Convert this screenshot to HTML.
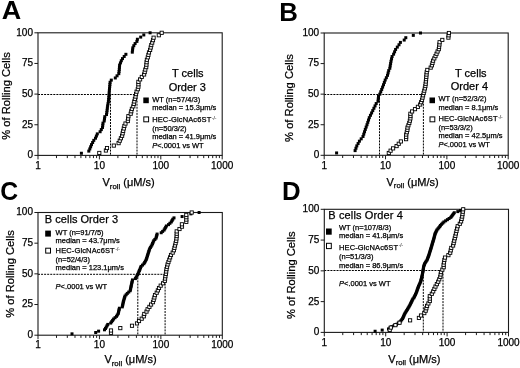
<!DOCTYPE html>
<html><head><meta charset="utf-8"><style>
html,body{margin:0;padding:0;background:#fff;}
svg{display:block;will-change:transform;}
text{font-family:"Liberation Sans", sans-serif;fill:#000;stroke:#000;stroke-width:0.25px;}
</style></head><body>
<svg width="520" height="368" viewBox="0 0 520 368">
<rect width="520" height="368" fill="#fff"/>
<path d="M38.0 94.50H137.0M110.5 94.50V155.4M137.0 94.50V155.4" stroke="#000" stroke-width="1" stroke-dasharray="2 1.06" fill="none"/>
<rect x="38.0" y="32.8" width="184.20" height="122.60" fill="none" stroke="#1a1a1a" stroke-width="1.1"/>
<path d="M34.40 155.40H38.0M34.40 124.75H38.0M34.40 94.10H38.0M34.40 63.45H38.0M34.40 32.80H38.0M38.00 155.4v4M56.48 155.4v2.7M67.30 155.4v2.7M74.97 155.4v2.7M80.92 155.4v2.7M85.78 155.4v2.7M89.89 155.4v2.7M93.45 155.4v2.7M96.59 155.4v2.7M99.40 155.4v4M117.88 155.4v2.7M128.70 155.4v2.7M136.37 155.4v2.7M142.32 155.4v2.7M147.18 155.4v2.7M151.29 155.4v2.7M154.85 155.4v2.7M157.99 155.4v2.7M160.80 155.4v4M179.28 155.4v2.7M190.10 155.4v2.7M197.77 155.4v2.7M203.72 155.4v2.7M208.58 155.4v2.7M212.69 155.4v2.7M216.25 155.4v2.7M219.39 155.4v2.7M222.20 155.4v4" stroke="#1a1a1a" stroke-width="1" fill="none"/>
<text x="33.00" y="158.30" text-anchor="end" font-size="10">0</text>
<text x="33.00" y="127.65" text-anchor="end" font-size="10">25</text>
<text x="33.00" y="97.00" text-anchor="end" font-size="10">50</text>
<text x="33.00" y="66.35" text-anchor="end" font-size="10">75</text>
<text x="33.00" y="35.70" text-anchor="end" font-size="10">100</text>
<text x="38.00" y="168.60" text-anchor="middle" font-size="10">1</text>
<text x="99.40" y="168.60" text-anchor="middle" font-size="10">10</text>
<text x="160.80" y="168.60" text-anchor="middle" font-size="10">100</text>
<text x="222.20" y="168.60" text-anchor="middle" font-size="10">1000</text>
<rect x="79.90" y="151.75" width="3" height="3" fill="#000"/>
<rect x="87.30" y="149.60" width="3" height="3" fill="#000"/>
<rect x="88.30" y="147.45" width="3" height="3" fill="#000"/>
<rect x="89.15" y="145.30" width="3" height="3" fill="#000"/>
<rect x="90.00" y="143.15" width="3" height="3" fill="#000"/>
<rect x="91.15" y="140.99" width="3" height="3" fill="#000"/>
<rect x="92.30" y="138.84" width="3" height="3" fill="#000"/>
<rect x="94.00" y="136.69" width="3" height="3" fill="#000"/>
<rect x="94.90" y="134.54" width="3" height="3" fill="#000"/>
<rect x="95.80" y="132.39" width="3" height="3" fill="#000"/>
<rect x="98.60" y="130.24" width="3" height="3" fill="#000"/>
<rect x="99.80" y="128.09" width="3" height="3" fill="#000"/>
<rect x="101.00" y="125.94" width="3" height="3" fill="#000"/>
<rect x="101.25" y="123.79" width="3" height="3" fill="#000"/>
<rect x="101.50" y="121.64" width="3" height="3" fill="#000"/>
<rect x="102.70" y="119.49" width="3" height="3" fill="#000"/>
<rect x="103.00" y="117.34" width="3" height="3" fill="#000"/>
<rect x="103.30" y="115.18" width="3" height="3" fill="#000"/>
<rect x="105.00" y="113.03" width="3" height="3" fill="#000"/>
<rect x="105.30" y="110.88" width="3" height="3" fill="#000"/>
<rect x="105.60" y="108.73" width="3" height="3" fill="#000"/>
<rect x="105.85" y="106.58" width="3" height="3" fill="#000"/>
<rect x="106.10" y="104.43" width="3" height="3" fill="#000"/>
<rect x="106.50" y="102.28" width="3" height="3" fill="#000"/>
<rect x="106.90" y="100.13" width="3" height="3" fill="#000"/>
<rect x="107.10" y="97.98" width="3" height="3" fill="#000"/>
<rect x="107.30" y="95.83" width="3" height="3" fill="#000"/>
<rect x="107.50" y="93.68" width="3" height="3" fill="#000"/>
<rect x="107.67" y="91.52" width="3" height="3" fill="#000"/>
<rect x="107.83" y="89.37" width="3" height="3" fill="#000"/>
<rect x="108.00" y="87.22" width="3" height="3" fill="#000"/>
<rect x="108.20" y="85.07" width="3" height="3" fill="#000"/>
<rect x="108.40" y="82.92" width="3" height="3" fill="#000"/>
<rect x="108.60" y="80.77" width="3" height="3" fill="#000"/>
<rect x="109.80" y="78.62" width="3" height="3" fill="#000"/>
<rect x="113.80" y="76.47" width="3" height="3" fill="#000"/>
<rect x="115.55" y="74.32" width="3" height="3" fill="#000"/>
<rect x="117.30" y="72.17" width="3" height="3" fill="#000"/>
<rect x="117.55" y="70.02" width="3" height="3" fill="#000"/>
<rect x="117.80" y="67.86" width="3" height="3" fill="#000"/>
<rect x="117.95" y="65.71" width="3" height="3" fill="#000"/>
<rect x="118.10" y="63.56" width="3" height="3" fill="#000"/>
<rect x="118.95" y="61.41" width="3" height="3" fill="#000"/>
<rect x="119.80" y="59.26" width="3" height="3" fill="#000"/>
<rect x="121.00" y="57.11" width="3" height="3" fill="#000"/>
<rect x="122.70" y="54.96" width="3" height="3" fill="#000"/>
<rect x="124.40" y="52.81" width="3" height="3" fill="#000"/>
<rect x="130.80" y="50.66" width="3" height="3" fill="#000"/>
<rect x="131.05" y="48.51" width="3" height="3" fill="#000"/>
<rect x="131.30" y="46.36" width="3" height="3" fill="#000"/>
<rect x="132.30" y="44.21" width="3" height="3" fill="#000"/>
<rect x="133.60" y="42.05" width="3" height="3" fill="#000"/>
<rect x="135.40" y="39.90" width="3" height="3" fill="#000"/>
<rect x="135.90" y="37.75" width="3" height="3" fill="#000"/>
<rect x="139.20" y="35.60" width="3" height="3" fill="#000"/>
<rect x="142.30" y="33.45" width="3" height="3" fill="#000"/>
<rect x="148.60" y="31.30" width="3" height="3" fill="#000"/>
<rect x="97.70" y="151.35" width="3.2" height="3.2" fill="#fff" stroke="#000" stroke-width="0.9"/>
<rect x="104.30" y="148.90" width="3.2" height="3.2" fill="#fff" stroke="#000" stroke-width="0.9"/>
<rect x="105.40" y="146.44" width="3.2" height="3.2" fill="#fff" stroke="#000" stroke-width="0.9"/>
<rect x="112.20" y="143.99" width="3.2" height="3.2" fill="#fff" stroke="#000" stroke-width="0.9"/>
<rect x="117.00" y="141.54" width="3.2" height="3.2" fill="#fff" stroke="#000" stroke-width="0.9"/>
<rect x="118.15" y="139.09" width="3.2" height="3.2" fill="#fff" stroke="#000" stroke-width="0.9"/>
<rect x="119.30" y="136.64" width="3.2" height="3.2" fill="#fff" stroke="#000" stroke-width="0.9"/>
<rect x="120.50" y="134.18" width="3.2" height="3.2" fill="#fff" stroke="#000" stroke-width="0.9"/>
<rect x="121.05" y="131.73" width="3.2" height="3.2" fill="#fff" stroke="#000" stroke-width="0.9"/>
<rect x="121.60" y="129.28" width="3.2" height="3.2" fill="#fff" stroke="#000" stroke-width="0.9"/>
<rect x="122.20" y="126.83" width="3.2" height="3.2" fill="#fff" stroke="#000" stroke-width="0.9"/>
<rect x="122.80" y="124.38" width="3.2" height="3.2" fill="#fff" stroke="#000" stroke-width="0.9"/>
<rect x="123.90" y="121.92" width="3.2" height="3.2" fill="#fff" stroke="#000" stroke-width="0.9"/>
<rect x="126.20" y="119.47" width="3.2" height="3.2" fill="#fff" stroke="#000" stroke-width="0.9"/>
<rect x="126.50" y="117.02" width="3.2" height="3.2" fill="#fff" stroke="#000" stroke-width="0.9"/>
<rect x="126.80" y="114.57" width="3.2" height="3.2" fill="#fff" stroke="#000" stroke-width="0.9"/>
<rect x="129.10" y="112.12" width="3.2" height="3.2" fill="#fff" stroke="#000" stroke-width="0.9"/>
<rect x="129.70" y="109.66" width="3.2" height="3.2" fill="#fff" stroke="#000" stroke-width="0.9"/>
<rect x="130.30" y="107.21" width="3.2" height="3.2" fill="#fff" stroke="#000" stroke-width="0.9"/>
<rect x="131.70" y="104.76" width="3.2" height="3.2" fill="#fff" stroke="#000" stroke-width="0.9"/>
<rect x="132.20" y="102.31" width="3.2" height="3.2" fill="#fff" stroke="#000" stroke-width="0.9"/>
<rect x="132.70" y="99.86" width="3.2" height="3.2" fill="#fff" stroke="#000" stroke-width="0.9"/>
<rect x="133.30" y="97.40" width="3.2" height="3.2" fill="#fff" stroke="#000" stroke-width="0.9"/>
<rect x="133.90" y="94.95" width="3.2" height="3.2" fill="#fff" stroke="#000" stroke-width="0.9"/>
<rect x="134.45" y="92.50" width="3.2" height="3.2" fill="#fff" stroke="#000" stroke-width="0.9"/>
<rect x="135.00" y="90.05" width="3.2" height="3.2" fill="#fff" stroke="#000" stroke-width="0.9"/>
<rect x="136.20" y="87.60" width="3.2" height="3.2" fill="#fff" stroke="#000" stroke-width="0.9"/>
<rect x="136.80" y="85.14" width="3.2" height="3.2" fill="#fff" stroke="#000" stroke-width="0.9"/>
<rect x="136.80" y="82.69" width="3.2" height="3.2" fill="#fff" stroke="#000" stroke-width="0.9"/>
<rect x="136.80" y="80.24" width="3.2" height="3.2" fill="#fff" stroke="#000" stroke-width="0.9"/>
<rect x="138.50" y="77.79" width="3.2" height="3.2" fill="#fff" stroke="#000" stroke-width="0.9"/>
<rect x="140.20" y="75.34" width="3.2" height="3.2" fill="#fff" stroke="#000" stroke-width="0.9"/>
<rect x="142.50" y="72.88" width="3.2" height="3.2" fill="#fff" stroke="#000" stroke-width="0.9"/>
<rect x="143.10" y="70.43" width="3.2" height="3.2" fill="#fff" stroke="#000" stroke-width="0.9"/>
<rect x="143.70" y="67.98" width="3.2" height="3.2" fill="#fff" stroke="#000" stroke-width="0.9"/>
<rect x="144.60" y="65.53" width="3.2" height="3.2" fill="#fff" stroke="#000" stroke-width="0.9"/>
<rect x="144.80" y="63.08" width="3.2" height="3.2" fill="#fff" stroke="#000" stroke-width="0.9"/>
<rect x="145.00" y="60.62" width="3.2" height="3.2" fill="#fff" stroke="#000" stroke-width="0.9"/>
<rect x="145.30" y="58.17" width="3.2" height="3.2" fill="#fff" stroke="#000" stroke-width="0.9"/>
<rect x="146.20" y="55.72" width="3.2" height="3.2" fill="#fff" stroke="#000" stroke-width="0.9"/>
<rect x="146.80" y="53.27" width="3.2" height="3.2" fill="#fff" stroke="#000" stroke-width="0.9"/>
<rect x="147.40" y="50.82" width="3.2" height="3.2" fill="#fff" stroke="#000" stroke-width="0.9"/>
<rect x="148.50" y="48.36" width="3.2" height="3.2" fill="#fff" stroke="#000" stroke-width="0.9"/>
<rect x="149.10" y="45.91" width="3.2" height="3.2" fill="#fff" stroke="#000" stroke-width="0.9"/>
<rect x="149.70" y="43.46" width="3.2" height="3.2" fill="#fff" stroke="#000" stroke-width="0.9"/>
<rect x="150.60" y="41.01" width="3.2" height="3.2" fill="#fff" stroke="#000" stroke-width="0.9"/>
<rect x="151.40" y="38.56" width="3.2" height="3.2" fill="#fff" stroke="#000" stroke-width="0.9"/>
<rect x="152.00" y="36.10" width="3.2" height="3.2" fill="#fff" stroke="#000" stroke-width="0.9"/>
<rect x="157.20" y="33.65" width="3.2" height="3.2" fill="#fff" stroke="#000" stroke-width="0.9"/>
<rect x="160.10" y="31.20" width="3.2" height="3.2" fill="#fff" stroke="#000" stroke-width="0.9"/>
<path d="M324.2 94.50H423.4M379.5 94.50V155.3M423.4 94.50V155.3" stroke="#000" stroke-width="1" stroke-dasharray="2 1.06" fill="none"/>
<rect x="324.2" y="33.0" width="184.00" height="122.30" fill="none" stroke="#1a1a1a" stroke-width="1.1"/>
<path d="M320.60 155.30H324.2M320.60 124.73H324.2M320.60 94.15H324.2M320.60 63.58H324.2M320.60 33.00H324.2M324.20 155.3v4M342.66 155.3v2.7M353.46 155.3v2.7M361.13 155.3v2.7M367.07 155.3v2.7M371.93 155.3v2.7M376.03 155.3v2.7M379.59 155.3v2.7M382.73 155.3v2.7M385.53 155.3v4M404.00 155.3v2.7M414.80 155.3v2.7M422.46 155.3v2.7M428.40 155.3v2.7M433.26 155.3v2.7M437.37 155.3v2.7M440.92 155.3v2.7M444.06 155.3v2.7M446.87 155.3v4M465.33 155.3v2.7M476.13 155.3v2.7M483.79 155.3v2.7M489.74 155.3v2.7M494.59 155.3v2.7M498.70 155.3v2.7M502.26 155.3v2.7M505.39 155.3v2.7M508.20 155.3v4" stroke="#1a1a1a" stroke-width="1" fill="none"/>
<text x="319.20" y="158.20" text-anchor="end" font-size="10">0</text>
<text x="319.20" y="127.63" text-anchor="end" font-size="10">25</text>
<text x="319.20" y="97.05" text-anchor="end" font-size="10">50</text>
<text x="319.20" y="66.48" text-anchor="end" font-size="10">75</text>
<text x="319.20" y="35.90" text-anchor="end" font-size="10">100</text>
<text x="324.20" y="168.50" text-anchor="middle" font-size="10">1</text>
<text x="385.53" y="168.50" text-anchor="middle" font-size="10">10</text>
<text x="446.87" y="168.50" text-anchor="middle" font-size="10">100</text>
<text x="508.20" y="168.50" text-anchor="middle" font-size="10">1000</text>
<rect x="335.10" y="151.45" width="3" height="3" fill="#000"/>
<rect x="353.60" y="149.10" width="3" height="3" fill="#000"/>
<rect x="354.45" y="146.74" width="3" height="3" fill="#000"/>
<rect x="355.30" y="144.39" width="3" height="3" fill="#000"/>
<rect x="356.60" y="142.04" width="3" height="3" fill="#000"/>
<rect x="357.90" y="139.69" width="3" height="3" fill="#000"/>
<rect x="359.70" y="137.34" width="3" height="3" fill="#000"/>
<rect x="361.50" y="134.98" width="3" height="3" fill="#000"/>
<rect x="362.27" y="132.63" width="3" height="3" fill="#000"/>
<rect x="363.03" y="130.28" width="3" height="3" fill="#000"/>
<rect x="363.80" y="127.93" width="3" height="3" fill="#000"/>
<rect x="364.65" y="125.58" width="3" height="3" fill="#000"/>
<rect x="365.50" y="123.23" width="3" height="3" fill="#000"/>
<rect x="366.27" y="120.87" width="3" height="3" fill="#000"/>
<rect x="367.03" y="118.52" width="3" height="3" fill="#000"/>
<rect x="367.80" y="116.17" width="3" height="3" fill="#000"/>
<rect x="368.95" y="113.82" width="3" height="3" fill="#000"/>
<rect x="370.10" y="111.47" width="3" height="3" fill="#000"/>
<rect x="371.25" y="109.11" width="3" height="3" fill="#000"/>
<rect x="372.40" y="106.76" width="3" height="3" fill="#000"/>
<rect x="373.55" y="104.41" width="3" height="3" fill="#000"/>
<rect x="374.70" y="102.06" width="3" height="3" fill="#000"/>
<rect x="376.50" y="99.71" width="3" height="3" fill="#000"/>
<rect x="376.75" y="97.35" width="3" height="3" fill="#000"/>
<rect x="377.00" y="95.00" width="3" height="3" fill="#000"/>
<rect x="378.30" y="92.65" width="3" height="3" fill="#000"/>
<rect x="379.25" y="90.30" width="3" height="3" fill="#000"/>
<rect x="380.20" y="87.95" width="3" height="3" fill="#000"/>
<rect x="381.10" y="85.59" width="3" height="3" fill="#000"/>
<rect x="382.00" y="83.24" width="3" height="3" fill="#000"/>
<rect x="382.85" y="80.89" width="3" height="3" fill="#000"/>
<rect x="383.70" y="78.54" width="3" height="3" fill="#000"/>
<rect x="384.85" y="76.19" width="3" height="3" fill="#000"/>
<rect x="386.00" y="73.83" width="3" height="3" fill="#000"/>
<rect x="386.60" y="71.48" width="3" height="3" fill="#000"/>
<rect x="387.20" y="69.13" width="3" height="3" fill="#000"/>
<rect x="388.30" y="66.78" width="3" height="3" fill="#000"/>
<rect x="388.70" y="64.43" width="3" height="3" fill="#000"/>
<rect x="389.10" y="62.08" width="3" height="3" fill="#000"/>
<rect x="389.50" y="59.72" width="3" height="3" fill="#000"/>
<rect x="390.05" y="57.37" width="3" height="3" fill="#000"/>
<rect x="390.60" y="55.02" width="3" height="3" fill="#000"/>
<rect x="392.10" y="52.67" width="3" height="3" fill="#000"/>
<rect x="393.10" y="50.32" width="3" height="3" fill="#000"/>
<rect x="394.10" y="47.96" width="3" height="3" fill="#000"/>
<rect x="395.80" y="45.61" width="3" height="3" fill="#000"/>
<rect x="397.50" y="43.26" width="3" height="3" fill="#000"/>
<rect x="398.90" y="40.91" width="3" height="3" fill="#000"/>
<rect x="402.70" y="38.56" width="3" height="3" fill="#000"/>
<rect x="404.30" y="36.20" width="3" height="3" fill="#000"/>
<rect x="411.80" y="33.85" width="3" height="3" fill="#000"/>
<rect x="419.00" y="31.50" width="3" height="3" fill="#000"/>
<rect x="387.20" y="151.39" width="3.2" height="3.2" fill="#fff" stroke="#000" stroke-width="0.9"/>
<rect x="389.00" y="149.08" width="3.2" height="3.2" fill="#fff" stroke="#000" stroke-width="0.9"/>
<rect x="391.50" y="146.78" width="3.2" height="3.2" fill="#fff" stroke="#000" stroke-width="0.9"/>
<rect x="395.00" y="144.47" width="3.2" height="3.2" fill="#fff" stroke="#000" stroke-width="0.9"/>
<rect x="397.15" y="142.16" width="3.2" height="3.2" fill="#fff" stroke="#000" stroke-width="0.9"/>
<rect x="399.30" y="139.85" width="3.2" height="3.2" fill="#fff" stroke="#000" stroke-width="0.9"/>
<rect x="404.50" y="137.55" width="3.2" height="3.2" fill="#fff" stroke="#000" stroke-width="0.9"/>
<rect x="404.55" y="135.24" width="3.2" height="3.2" fill="#fff" stroke="#000" stroke-width="0.9"/>
<rect x="404.60" y="132.93" width="3.2" height="3.2" fill="#fff" stroke="#000" stroke-width="0.9"/>
<rect x="405.20" y="130.62" width="3.2" height="3.2" fill="#fff" stroke="#000" stroke-width="0.9"/>
<rect x="405.80" y="128.32" width="3.2" height="3.2" fill="#fff" stroke="#000" stroke-width="0.9"/>
<rect x="405.90" y="126.01" width="3.2" height="3.2" fill="#fff" stroke="#000" stroke-width="0.9"/>
<rect x="406.80" y="123.70" width="3.2" height="3.2" fill="#fff" stroke="#000" stroke-width="0.9"/>
<rect x="407.70" y="121.39" width="3.2" height="3.2" fill="#fff" stroke="#000" stroke-width="0.9"/>
<rect x="408.25" y="119.09" width="3.2" height="3.2" fill="#fff" stroke="#000" stroke-width="0.9"/>
<rect x="408.80" y="116.78" width="3.2" height="3.2" fill="#fff" stroke="#000" stroke-width="0.9"/>
<rect x="408.80" y="114.47" width="3.2" height="3.2" fill="#fff" stroke="#000" stroke-width="0.9"/>
<rect x="408.80" y="112.16" width="3.2" height="3.2" fill="#fff" stroke="#000" stroke-width="0.9"/>
<rect x="410.50" y="109.86" width="3.2" height="3.2" fill="#fff" stroke="#000" stroke-width="0.9"/>
<rect x="413.40" y="107.55" width="3.2" height="3.2" fill="#fff" stroke="#000" stroke-width="0.9"/>
<rect x="416.30" y="105.24" width="3.2" height="3.2" fill="#fff" stroke="#000" stroke-width="0.9"/>
<rect x="418.60" y="102.93" width="3.2" height="3.2" fill="#fff" stroke="#000" stroke-width="0.9"/>
<rect x="419.50" y="100.63" width="3.2" height="3.2" fill="#fff" stroke="#000" stroke-width="0.9"/>
<rect x="420.40" y="98.32" width="3.2" height="3.2" fill="#fff" stroke="#000" stroke-width="0.9"/>
<rect x="420.95" y="96.01" width="3.2" height="3.2" fill="#fff" stroke="#000" stroke-width="0.9"/>
<rect x="421.50" y="93.70" width="3.2" height="3.2" fill="#fff" stroke="#000" stroke-width="0.9"/>
<rect x="422.10" y="91.40" width="3.2" height="3.2" fill="#fff" stroke="#000" stroke-width="0.9"/>
<rect x="422.70" y="89.09" width="3.2" height="3.2" fill="#fff" stroke="#000" stroke-width="0.9"/>
<rect x="423.25" y="86.78" width="3.2" height="3.2" fill="#fff" stroke="#000" stroke-width="0.9"/>
<rect x="423.80" y="84.47" width="3.2" height="3.2" fill="#fff" stroke="#000" stroke-width="0.9"/>
<rect x="424.03" y="82.17" width="3.2" height="3.2" fill="#fff" stroke="#000" stroke-width="0.9"/>
<rect x="424.27" y="79.86" width="3.2" height="3.2" fill="#fff" stroke="#000" stroke-width="0.9"/>
<rect x="424.50" y="77.55" width="3.2" height="3.2" fill="#fff" stroke="#000" stroke-width="0.9"/>
<rect x="424.70" y="75.24" width="3.2" height="3.2" fill="#fff" stroke="#000" stroke-width="0.9"/>
<rect x="424.90" y="72.94" width="3.2" height="3.2" fill="#fff" stroke="#000" stroke-width="0.9"/>
<rect x="425.10" y="70.63" width="3.2" height="3.2" fill="#fff" stroke="#000" stroke-width="0.9"/>
<rect x="425.70" y="68.32" width="3.2" height="3.2" fill="#fff" stroke="#000" stroke-width="0.9"/>
<rect x="429.10" y="66.01" width="3.2" height="3.2" fill="#fff" stroke="#000" stroke-width="0.9"/>
<rect x="430.30" y="63.71" width="3.2" height="3.2" fill="#fff" stroke="#000" stroke-width="0.9"/>
<rect x="430.90" y="61.40" width="3.2" height="3.2" fill="#fff" stroke="#000" stroke-width="0.9"/>
<rect x="431.50" y="59.09" width="3.2" height="3.2" fill="#fff" stroke="#000" stroke-width="0.9"/>
<rect x="432.70" y="56.78" width="3.2" height="3.2" fill="#fff" stroke="#000" stroke-width="0.9"/>
<rect x="433.90" y="54.48" width="3.2" height="3.2" fill="#fff" stroke="#000" stroke-width="0.9"/>
<rect x="434.95" y="52.17" width="3.2" height="3.2" fill="#fff" stroke="#000" stroke-width="0.9"/>
<rect x="436.00" y="49.86" width="3.2" height="3.2" fill="#fff" stroke="#000" stroke-width="0.9"/>
<rect x="437.20" y="47.55" width="3.2" height="3.2" fill="#fff" stroke="#000" stroke-width="0.9"/>
<rect x="437.50" y="45.25" width="3.2" height="3.2" fill="#fff" stroke="#000" stroke-width="0.9"/>
<rect x="437.80" y="42.94" width="3.2" height="3.2" fill="#fff" stroke="#000" stroke-width="0.9"/>
<rect x="438.00" y="40.63" width="3.2" height="3.2" fill="#fff" stroke="#000" stroke-width="0.9"/>
<rect x="440.70" y="38.32" width="3.2" height="3.2" fill="#fff" stroke="#000" stroke-width="0.9"/>
<rect x="446.80" y="36.02" width="3.2" height="3.2" fill="#fff" stroke="#000" stroke-width="0.9"/>
<rect x="447.00" y="33.71" width="3.2" height="3.2" fill="#fff" stroke="#000" stroke-width="0.9"/>
<rect x="447.30" y="31.40" width="3.2" height="3.2" fill="#fff" stroke="#000" stroke-width="0.9"/>
<path d="M38.0 274.30H165.1M137.8 274.30V335.2M165.1 274.30V335.2" stroke="#000" stroke-width="1" stroke-dasharray="2 1.06" fill="none"/>
<rect x="38.0" y="212.5" width="184.30" height="122.70" fill="none" stroke="#1a1a1a" stroke-width="1.1"/>
<path d="M34.40 335.20H38.0M34.40 304.52H38.0M34.40 273.85H38.0M34.40 243.18H38.0M34.40 212.50H38.0M38.00 335.2v4M56.49 335.2v2.7M67.31 335.2v2.7M74.99 335.2v2.7M80.94 335.2v2.7M85.80 335.2v2.7M89.92 335.2v2.7M93.48 335.2v2.7M96.62 335.2v2.7M99.43 335.2v4M117.93 335.2v2.7M128.74 335.2v2.7M136.42 335.2v2.7M142.37 335.2v2.7M147.24 335.2v2.7M151.35 335.2v2.7M154.91 335.2v2.7M158.06 335.2v2.7M160.87 335.2v4M179.36 335.2v2.7M190.18 335.2v2.7M197.85 335.2v2.7M203.81 335.2v2.7M208.67 335.2v2.7M212.78 335.2v2.7M216.35 335.2v2.7M219.49 335.2v2.7M222.30 335.2v4" stroke="#1a1a1a" stroke-width="1" fill="none"/>
<text x="33.00" y="338.10" text-anchor="end" font-size="10">0</text>
<text x="33.00" y="307.42" text-anchor="end" font-size="10">25</text>
<text x="33.00" y="276.75" text-anchor="end" font-size="10">50</text>
<text x="33.00" y="246.08" text-anchor="end" font-size="10">75</text>
<text x="33.00" y="215.40" text-anchor="end" font-size="10">100</text>
<text x="38.00" y="348.40" text-anchor="middle" font-size="10">1</text>
<text x="99.43" y="348.40" text-anchor="middle" font-size="10">10</text>
<text x="160.87" y="348.40" text-anchor="middle" font-size="10">100</text>
<text x="222.30" y="348.40" text-anchor="middle" font-size="10">1000</text>
<rect x="70.50" y="332.35" width="3" height="3" fill="#000"/>
<rect x="94.20" y="331.00" width="3" height="3" fill="#000"/>
<rect x="97.10" y="329.65" width="3" height="3" fill="#000"/>
<rect x="103.00" y="328.31" width="3" height="3" fill="#000"/>
<rect x="104.00" y="326.96" width="3" height="3" fill="#000"/>
<rect x="104.77" y="325.61" width="3" height="3" fill="#000"/>
<rect x="105.53" y="324.26" width="3" height="3" fill="#000"/>
<rect x="106.30" y="322.91" width="3" height="3" fill="#000"/>
<rect x="109.20" y="321.56" width="3" height="3" fill="#000"/>
<rect x="110.17" y="320.22" width="3" height="3" fill="#000"/>
<rect x="111.13" y="318.87" width="3" height="3" fill="#000"/>
<rect x="112.10" y="317.52" width="3" height="3" fill="#000"/>
<rect x="113.55" y="316.17" width="3" height="3" fill="#000"/>
<rect x="115.00" y="314.82" width="3" height="3" fill="#000"/>
<rect x="115.85" y="313.47" width="3" height="3" fill="#000"/>
<rect x="116.70" y="312.13" width="3" height="3" fill="#000"/>
<rect x="117.00" y="310.78" width="3" height="3" fill="#000"/>
<rect x="117.30" y="309.43" width="3" height="3" fill="#000"/>
<rect x="117.60" y="308.08" width="3" height="3" fill="#000"/>
<rect x="117.90" y="306.73" width="3" height="3" fill="#000"/>
<rect x="120.80" y="305.38" width="3" height="3" fill="#000"/>
<rect x="121.08" y="304.04" width="3" height="3" fill="#000"/>
<rect x="121.35" y="302.69" width="3" height="3" fill="#000"/>
<rect x="121.62" y="301.34" width="3" height="3" fill="#000"/>
<rect x="121.90" y="299.99" width="3" height="3" fill="#000"/>
<rect x="122.30" y="298.64" width="3" height="3" fill="#000"/>
<rect x="122.70" y="297.29" width="3" height="3" fill="#000"/>
<rect x="123.10" y="295.95" width="3" height="3" fill="#000"/>
<rect x="123.50" y="294.60" width="3" height="3" fill="#000"/>
<rect x="124.65" y="293.25" width="3" height="3" fill="#000"/>
<rect x="125.80" y="291.90" width="3" height="3" fill="#000"/>
<rect x="127.25" y="290.55" width="3" height="3" fill="#000"/>
<rect x="128.70" y="289.20" width="3" height="3" fill="#000"/>
<rect x="128.97" y="287.86" width="3" height="3" fill="#000"/>
<rect x="129.25" y="286.51" width="3" height="3" fill="#000"/>
<rect x="129.53" y="285.16" width="3" height="3" fill="#000"/>
<rect x="129.80" y="283.81" width="3" height="3" fill="#000"/>
<rect x="130.10" y="282.46" width="3" height="3" fill="#000"/>
<rect x="130.40" y="281.11" width="3" height="3" fill="#000"/>
<rect x="130.70" y="279.77" width="3" height="3" fill="#000"/>
<rect x="131.00" y="278.42" width="3" height="3" fill="#000"/>
<rect x="133.90" y="277.07" width="3" height="3" fill="#000"/>
<rect x="134.67" y="275.72" width="3" height="3" fill="#000"/>
<rect x="135.43" y="274.37" width="3" height="3" fill="#000"/>
<rect x="136.20" y="273.02" width="3" height="3" fill="#000"/>
<rect x="136.77" y="271.68" width="3" height="3" fill="#000"/>
<rect x="137.33" y="270.33" width="3" height="3" fill="#000"/>
<rect x="137.90" y="268.98" width="3" height="3" fill="#000"/>
<rect x="138.47" y="267.63" width="3" height="3" fill="#000"/>
<rect x="139.03" y="266.28" width="3" height="3" fill="#000"/>
<rect x="139.60" y="264.93" width="3" height="3" fill="#000"/>
<rect x="141.00" y="263.59" width="3" height="3" fill="#000"/>
<rect x="142.40" y="262.24" width="3" height="3" fill="#000"/>
<rect x="143.17" y="260.89" width="3" height="3" fill="#000"/>
<rect x="143.93" y="259.54" width="3" height="3" fill="#000"/>
<rect x="144.70" y="258.19" width="3" height="3" fill="#000"/>
<rect x="145.12" y="256.84" width="3" height="3" fill="#000"/>
<rect x="145.55" y="255.50" width="3" height="3" fill="#000"/>
<rect x="145.97" y="254.15" width="3" height="3" fill="#000"/>
<rect x="146.40" y="252.80" width="3" height="3" fill="#000"/>
<rect x="146.82" y="251.45" width="3" height="3" fill="#000"/>
<rect x="147.25" y="250.10" width="3" height="3" fill="#000"/>
<rect x="147.68" y="248.75" width="3" height="3" fill="#000"/>
<rect x="148.10" y="247.41" width="3" height="3" fill="#000"/>
<rect x="148.90" y="246.06" width="3" height="3" fill="#000"/>
<rect x="149.70" y="244.71" width="3" height="3" fill="#000"/>
<rect x="150.50" y="243.36" width="3" height="3" fill="#000"/>
<rect x="151.07" y="242.01" width="3" height="3" fill="#000"/>
<rect x="151.63" y="240.66" width="3" height="3" fill="#000"/>
<rect x="152.20" y="239.32" width="3" height="3" fill="#000"/>
<rect x="153.35" y="237.97" width="3" height="3" fill="#000"/>
<rect x="154.50" y="236.62" width="3" height="3" fill="#000"/>
<rect x="154.87" y="235.27" width="3" height="3" fill="#000"/>
<rect x="155.23" y="233.92" width="3" height="3" fill="#000"/>
<rect x="155.60" y="232.57" width="3" height="3" fill="#000"/>
<rect x="159.70" y="231.23" width="3" height="3" fill="#000"/>
<rect x="161.15" y="229.88" width="3" height="3" fill="#000"/>
<rect x="162.60" y="228.53" width="3" height="3" fill="#000"/>
<rect x="163.37" y="227.18" width="3" height="3" fill="#000"/>
<rect x="164.13" y="225.83" width="3" height="3" fill="#000"/>
<rect x="164.90" y="224.48" width="3" height="3" fill="#000"/>
<rect x="167.00" y="223.14" width="3" height="3" fill="#000"/>
<rect x="168.40" y="221.79" width="3" height="3" fill="#000"/>
<rect x="169.80" y="220.44" width="3" height="3" fill="#000"/>
<rect x="170.55" y="219.09" width="3" height="3" fill="#000"/>
<rect x="171.30" y="217.74" width="3" height="3" fill="#000"/>
<rect x="172.50" y="216.39" width="3" height="3" fill="#000"/>
<rect x="180.60" y="215.05" width="3" height="3" fill="#000"/>
<rect x="184.80" y="213.70" width="3" height="3" fill="#000"/>
<rect x="189.40" y="212.35" width="3" height="3" fill="#000"/>
<rect x="197.60" y="211.00" width="3" height="3" fill="#000"/>
<rect x="109.40" y="331.24" width="3.2" height="3.2" fill="#fff" stroke="#000" stroke-width="0.9"/>
<rect x="109.40" y="328.88" width="3.2" height="3.2" fill="#fff" stroke="#000" stroke-width="0.9"/>
<rect x="118.70" y="326.52" width="3.2" height="3.2" fill="#fff" stroke="#000" stroke-width="0.9"/>
<rect x="130.40" y="324.16" width="3.2" height="3.2" fill="#fff" stroke="#000" stroke-width="0.9"/>
<rect x="135.40" y="321.80" width="3.2" height="3.2" fill="#fff" stroke="#000" stroke-width="0.9"/>
<rect x="137.40" y="319.44" width="3.2" height="3.2" fill="#fff" stroke="#000" stroke-width="0.9"/>
<rect x="140.10" y="317.08" width="3.2" height="3.2" fill="#fff" stroke="#000" stroke-width="0.9"/>
<rect x="142.20" y="314.72" width="3.2" height="3.2" fill="#fff" stroke="#000" stroke-width="0.9"/>
<rect x="142.70" y="312.36" width="3.2" height="3.2" fill="#fff" stroke="#000" stroke-width="0.9"/>
<rect x="144.90" y="310.00" width="3.2" height="3.2" fill="#fff" stroke="#000" stroke-width="0.9"/>
<rect x="146.00" y="307.64" width="3.2" height="3.2" fill="#fff" stroke="#000" stroke-width="0.9"/>
<rect x="147.80" y="305.28" width="3.2" height="3.2" fill="#fff" stroke="#000" stroke-width="0.9"/>
<rect x="149.50" y="302.92" width="3.2" height="3.2" fill="#fff" stroke="#000" stroke-width="0.9"/>
<rect x="151.40" y="300.57" width="3.2" height="3.2" fill="#fff" stroke="#000" stroke-width="0.9"/>
<rect x="152.10" y="298.21" width="3.2" height="3.2" fill="#fff" stroke="#000" stroke-width="0.9"/>
<rect x="152.80" y="295.85" width="3.2" height="3.2" fill="#fff" stroke="#000" stroke-width="0.9"/>
<rect x="153.40" y="293.49" width="3.2" height="3.2" fill="#fff" stroke="#000" stroke-width="0.9"/>
<rect x="155.10" y="291.13" width="3.2" height="3.2" fill="#fff" stroke="#000" stroke-width="0.9"/>
<rect x="156.25" y="288.77" width="3.2" height="3.2" fill="#fff" stroke="#000" stroke-width="0.9"/>
<rect x="157.40" y="286.41" width="3.2" height="3.2" fill="#fff" stroke="#000" stroke-width="0.9"/>
<rect x="159.10" y="284.05" width="3.2" height="3.2" fill="#fff" stroke="#000" stroke-width="0.9"/>
<rect x="161.50" y="281.69" width="3.2" height="3.2" fill="#fff" stroke="#000" stroke-width="0.9"/>
<rect x="163.20" y="279.33" width="3.2" height="3.2" fill="#fff" stroke="#000" stroke-width="0.9"/>
<rect x="163.50" y="276.97" width="3.2" height="3.2" fill="#fff" stroke="#000" stroke-width="0.9"/>
<rect x="163.80" y="274.61" width="3.2" height="3.2" fill="#fff" stroke="#000" stroke-width="0.9"/>
<rect x="164.30" y="272.25" width="3.2" height="3.2" fill="#fff" stroke="#000" stroke-width="0.9"/>
<rect x="164.60" y="269.89" width="3.2" height="3.2" fill="#fff" stroke="#000" stroke-width="0.9"/>
<rect x="164.90" y="267.53" width="3.2" height="3.2" fill="#fff" stroke="#000" stroke-width="0.9"/>
<rect x="165.45" y="265.17" width="3.2" height="3.2" fill="#fff" stroke="#000" stroke-width="0.9"/>
<rect x="166.00" y="262.81" width="3.2" height="3.2" fill="#fff" stroke="#000" stroke-width="0.9"/>
<rect x="166.85" y="260.45" width="3.2" height="3.2" fill="#fff" stroke="#000" stroke-width="0.9"/>
<rect x="167.70" y="258.09" width="3.2" height="3.2" fill="#fff" stroke="#000" stroke-width="0.9"/>
<rect x="168.55" y="255.73" width="3.2" height="3.2" fill="#fff" stroke="#000" stroke-width="0.9"/>
<rect x="169.40" y="253.37" width="3.2" height="3.2" fill="#fff" stroke="#000" stroke-width="0.9"/>
<rect x="171.10" y="251.01" width="3.2" height="3.2" fill="#fff" stroke="#000" stroke-width="0.9"/>
<rect x="172.30" y="248.65" width="3.2" height="3.2" fill="#fff" stroke="#000" stroke-width="0.9"/>
<rect x="172.85" y="246.29" width="3.2" height="3.2" fill="#fff" stroke="#000" stroke-width="0.9"/>
<rect x="173.40" y="243.93" width="3.2" height="3.2" fill="#fff" stroke="#000" stroke-width="0.9"/>
<rect x="174.00" y="241.58" width="3.2" height="3.2" fill="#fff" stroke="#000" stroke-width="0.9"/>
<rect x="174.60" y="239.22" width="3.2" height="3.2" fill="#fff" stroke="#000" stroke-width="0.9"/>
<rect x="174.85" y="236.86" width="3.2" height="3.2" fill="#fff" stroke="#000" stroke-width="0.9"/>
<rect x="175.10" y="234.50" width="3.2" height="3.2" fill="#fff" stroke="#000" stroke-width="0.9"/>
<rect x="175.10" y="232.14" width="3.2" height="3.2" fill="#fff" stroke="#000" stroke-width="0.9"/>
<rect x="175.10" y="229.78" width="3.2" height="3.2" fill="#fff" stroke="#000" stroke-width="0.9"/>
<rect x="177.90" y="227.42" width="3.2" height="3.2" fill="#fff" stroke="#000" stroke-width="0.9"/>
<rect x="180.40" y="225.06" width="3.2" height="3.2" fill="#fff" stroke="#000" stroke-width="0.9"/>
<rect x="180.30" y="222.70" width="3.2" height="3.2" fill="#fff" stroke="#000" stroke-width="0.9"/>
<rect x="184.70" y="220.34" width="3.2" height="3.2" fill="#fff" stroke="#000" stroke-width="0.9"/>
<rect x="184.70" y="217.98" width="3.2" height="3.2" fill="#fff" stroke="#000" stroke-width="0.9"/>
<rect x="184.70" y="215.62" width="3.2" height="3.2" fill="#fff" stroke="#000" stroke-width="0.9"/>
<rect x="184.70" y="213.26" width="3.2" height="3.2" fill="#fff" stroke="#000" stroke-width="0.9"/>
<rect x="190.10" y="210.90" width="3.2" height="3.2" fill="#fff" stroke="#000" stroke-width="0.9"/>
<path d="M324.3 270.50H443.0M423.3 270.50V332.4M443.0 270.50V332.4" stroke="#000" stroke-width="1" stroke-dasharray="2 1.06" fill="none"/>
<rect x="324.3" y="209.3" width="184.20" height="123.10" fill="none" stroke="#1a1a1a" stroke-width="1.1"/>
<path d="M320.70 332.40H324.3M320.70 301.62H324.3M320.70 270.85H324.3M320.70 240.07H324.3M320.70 209.30H324.3M324.30 332.4v4M342.78 332.4v2.7M353.60 332.4v2.7M361.27 332.4v2.7M367.22 332.4v2.7M372.08 332.4v2.7M376.19 332.4v2.7M379.75 332.4v2.7M382.89 332.4v2.7M385.70 332.4v4M404.18 332.4v2.7M415.00 332.4v2.7M422.67 332.4v2.7M428.62 332.4v2.7M433.48 332.4v2.7M437.59 332.4v2.7M441.15 332.4v2.7M444.29 332.4v2.7M447.10 332.4v4M465.58 332.4v2.7M476.40 332.4v2.7M484.07 332.4v2.7M490.02 332.4v2.7M494.88 332.4v2.7M498.99 332.4v2.7M502.55 332.4v2.7M505.69 332.4v2.7M508.50 332.4v4" stroke="#1a1a1a" stroke-width="1" fill="none"/>
<text x="319.30" y="335.30" text-anchor="end" font-size="10">0</text>
<text x="319.30" y="304.52" text-anchor="end" font-size="10">25</text>
<text x="319.30" y="273.75" text-anchor="end" font-size="10">50</text>
<text x="319.30" y="242.97" text-anchor="end" font-size="10">75</text>
<text x="319.30" y="212.20" text-anchor="end" font-size="10">100</text>
<text x="324.30" y="345.60" text-anchor="middle" font-size="10">1</text>
<text x="385.70" y="345.60" text-anchor="middle" font-size="10">10</text>
<text x="447.10" y="345.60" text-anchor="middle" font-size="10">100</text>
<text x="508.50" y="345.60" text-anchor="middle" font-size="10">1000</text>
<rect x="373.60" y="329.75" width="3" height="3" fill="#000"/>
<rect x="380.70" y="328.60" width="3" height="3" fill="#000"/>
<rect x="387.00" y="327.45" width="3" height="3" fill="#000"/>
<rect x="388.60" y="326.30" width="3" height="3" fill="#000"/>
<rect x="390.20" y="325.15" width="3" height="3" fill="#000"/>
<rect x="392.60" y="324.00" width="3" height="3" fill="#000"/>
<rect x="395.00" y="322.85" width="3" height="3" fill="#000"/>
<rect x="396.70" y="321.70" width="3" height="3" fill="#000"/>
<rect x="398.40" y="320.55" width="3" height="3" fill="#000"/>
<rect x="399.30" y="319.40" width="3" height="3" fill="#000"/>
<rect x="400.20" y="318.24" width="3" height="3" fill="#000"/>
<rect x="401.10" y="317.09" width="3" height="3" fill="#000"/>
<rect x="401.60" y="315.94" width="3" height="3" fill="#000"/>
<rect x="402.10" y="314.79" width="3" height="3" fill="#000"/>
<rect x="402.60" y="313.64" width="3" height="3" fill="#000"/>
<rect x="403.10" y="312.49" width="3" height="3" fill="#000"/>
<rect x="403.80" y="311.34" width="3" height="3" fill="#000"/>
<rect x="404.50" y="310.19" width="3" height="3" fill="#000"/>
<rect x="405.20" y="309.04" width="3" height="3" fill="#000"/>
<rect x="405.90" y="307.89" width="3" height="3" fill="#000"/>
<rect x="406.57" y="306.74" width="3" height="3" fill="#000"/>
<rect x="407.25" y="305.59" width="3" height="3" fill="#000"/>
<rect x="407.93" y="304.44" width="3" height="3" fill="#000"/>
<rect x="408.60" y="303.29" width="3" height="3" fill="#000"/>
<rect x="409.14" y="302.14" width="3" height="3" fill="#000"/>
<rect x="409.68" y="300.99" width="3" height="3" fill="#000"/>
<rect x="410.22" y="299.84" width="3" height="3" fill="#000"/>
<rect x="410.76" y="298.69" width="3" height="3" fill="#000"/>
<rect x="411.30" y="297.54" width="3" height="3" fill="#000"/>
<rect x="412.30" y="296.39" width="3" height="3" fill="#000"/>
<rect x="412.87" y="295.24" width="3" height="3" fill="#000"/>
<rect x="413.43" y="294.09" width="3" height="3" fill="#000"/>
<rect x="414.00" y="292.93" width="3" height="3" fill="#000"/>
<rect x="414.50" y="291.78" width="3" height="3" fill="#000"/>
<rect x="415.00" y="290.63" width="3" height="3" fill="#000"/>
<rect x="415.40" y="289.48" width="3" height="3" fill="#000"/>
<rect x="415.80" y="288.33" width="3" height="3" fill="#000"/>
<rect x="416.20" y="287.18" width="3" height="3" fill="#000"/>
<rect x="416.60" y="286.03" width="3" height="3" fill="#000"/>
<rect x="417.00" y="284.88" width="3" height="3" fill="#000"/>
<rect x="417.52" y="283.73" width="3" height="3" fill="#000"/>
<rect x="418.05" y="282.58" width="3" height="3" fill="#000"/>
<rect x="418.58" y="281.43" width="3" height="3" fill="#000"/>
<rect x="419.10" y="280.28" width="3" height="3" fill="#000"/>
<rect x="419.38" y="279.13" width="3" height="3" fill="#000"/>
<rect x="419.67" y="277.98" width="3" height="3" fill="#000"/>
<rect x="419.95" y="276.83" width="3" height="3" fill="#000"/>
<rect x="420.23" y="275.68" width="3" height="3" fill="#000"/>
<rect x="420.52" y="274.53" width="3" height="3" fill="#000"/>
<rect x="420.80" y="273.38" width="3" height="3" fill="#000"/>
<rect x="421.00" y="272.23" width="3" height="3" fill="#000"/>
<rect x="421.20" y="271.08" width="3" height="3" fill="#000"/>
<rect x="421.40" y="269.93" width="3" height="3" fill="#000"/>
<rect x="421.60" y="268.77" width="3" height="3" fill="#000"/>
<rect x="421.80" y="267.62" width="3" height="3" fill="#000"/>
<rect x="421.95" y="266.47" width="3" height="3" fill="#000"/>
<rect x="422.10" y="265.32" width="3" height="3" fill="#000"/>
<rect x="422.50" y="264.17" width="3" height="3" fill="#000"/>
<rect x="422.90" y="263.02" width="3" height="3" fill="#000"/>
<rect x="423.30" y="261.87" width="3" height="3" fill="#000"/>
<rect x="424.07" y="260.72" width="3" height="3" fill="#000"/>
<rect x="424.83" y="259.57" width="3" height="3" fill="#000"/>
<rect x="425.60" y="258.42" width="3" height="3" fill="#000"/>
<rect x="426.03" y="257.27" width="3" height="3" fill="#000"/>
<rect x="426.45" y="256.12" width="3" height="3" fill="#000"/>
<rect x="426.88" y="254.97" width="3" height="3" fill="#000"/>
<rect x="427.30" y="253.82" width="3" height="3" fill="#000"/>
<rect x="427.66" y="252.67" width="3" height="3" fill="#000"/>
<rect x="428.02" y="251.52" width="3" height="3" fill="#000"/>
<rect x="428.38" y="250.37" width="3" height="3" fill="#000"/>
<rect x="428.74" y="249.22" width="3" height="3" fill="#000"/>
<rect x="429.10" y="248.07" width="3" height="3" fill="#000"/>
<rect x="429.44" y="246.92" width="3" height="3" fill="#000"/>
<rect x="429.78" y="245.77" width="3" height="3" fill="#000"/>
<rect x="430.12" y="244.61" width="3" height="3" fill="#000"/>
<rect x="430.46" y="243.46" width="3" height="3" fill="#000"/>
<rect x="430.80" y="242.31" width="3" height="3" fill="#000"/>
<rect x="431.14" y="241.16" width="3" height="3" fill="#000"/>
<rect x="431.48" y="240.01" width="3" height="3" fill="#000"/>
<rect x="431.82" y="238.86" width="3" height="3" fill="#000"/>
<rect x="432.16" y="237.71" width="3" height="3" fill="#000"/>
<rect x="432.50" y="236.56" width="3" height="3" fill="#000"/>
<rect x="432.80" y="235.41" width="3" height="3" fill="#000"/>
<rect x="433.10" y="234.26" width="3" height="3" fill="#000"/>
<rect x="433.40" y="233.11" width="3" height="3" fill="#000"/>
<rect x="433.70" y="231.96" width="3" height="3" fill="#000"/>
<rect x="434.27" y="230.81" width="3" height="3" fill="#000"/>
<rect x="434.83" y="229.66" width="3" height="3" fill="#000"/>
<rect x="435.40" y="228.51" width="3" height="3" fill="#000"/>
<rect x="436.37" y="227.36" width="3" height="3" fill="#000"/>
<rect x="437.33" y="226.21" width="3" height="3" fill="#000"/>
<rect x="438.30" y="225.06" width="3" height="3" fill="#000"/>
<rect x="438.90" y="223.91" width="3" height="3" fill="#000"/>
<rect x="440.07" y="222.76" width="3" height="3" fill="#000"/>
<rect x="441.23" y="221.61" width="3" height="3" fill="#000"/>
<rect x="442.40" y="220.46" width="3" height="3" fill="#000"/>
<rect x="444.15" y="219.30" width="3" height="3" fill="#000"/>
<rect x="445.90" y="218.15" width="3" height="3" fill="#000"/>
<rect x="447.60" y="217.00" width="3" height="3" fill="#000"/>
<rect x="449.30" y="215.85" width="3" height="3" fill="#000"/>
<rect x="450.18" y="214.70" width="3" height="3" fill="#000"/>
<rect x="451.05" y="213.55" width="3" height="3" fill="#000"/>
<rect x="451.93" y="212.40" width="3" height="3" fill="#000"/>
<rect x="452.80" y="211.25" width="3" height="3" fill="#000"/>
<rect x="456.30" y="210.10" width="3" height="3" fill="#000"/>
<rect x="459.00" y="208.95" width="3" height="3" fill="#000"/>
<rect x="462.00" y="207.80" width="3" height="3" fill="#000"/>
<rect x="388.10" y="328.39" width="3.2" height="3.2" fill="#fff" stroke="#000" stroke-width="0.9"/>
<rect x="389.20" y="325.97" width="3.2" height="3.2" fill="#fff" stroke="#000" stroke-width="0.9"/>
<rect x="393.80" y="323.56" width="3.2" height="3.2" fill="#fff" stroke="#000" stroke-width="0.9"/>
<rect x="397.90" y="321.15" width="3.2" height="3.2" fill="#fff" stroke="#000" stroke-width="0.9"/>
<rect x="408.50" y="318.73" width="3.2" height="3.2" fill="#fff" stroke="#000" stroke-width="0.9"/>
<rect x="417.30" y="316.32" width="3.2" height="3.2" fill="#fff" stroke="#000" stroke-width="0.9"/>
<rect x="419.40" y="313.90" width="3.2" height="3.2" fill="#fff" stroke="#000" stroke-width="0.9"/>
<rect x="422.70" y="311.49" width="3.2" height="3.2" fill="#fff" stroke="#000" stroke-width="0.9"/>
<rect x="424.10" y="309.08" width="3.2" height="3.2" fill="#fff" stroke="#000" stroke-width="0.9"/>
<rect x="424.80" y="306.66" width="3.2" height="3.2" fill="#fff" stroke="#000" stroke-width="0.9"/>
<rect x="425.50" y="304.25" width="3.2" height="3.2" fill="#fff" stroke="#000" stroke-width="0.9"/>
<rect x="426.80" y="301.84" width="3.2" height="3.2" fill="#fff" stroke="#000" stroke-width="0.9"/>
<rect x="428.20" y="299.42" width="3.2" height="3.2" fill="#fff" stroke="#000" stroke-width="0.9"/>
<rect x="428.20" y="297.01" width="3.2" height="3.2" fill="#fff" stroke="#000" stroke-width="0.9"/>
<rect x="428.20" y="294.59" width="3.2" height="3.2" fill="#fff" stroke="#000" stroke-width="0.9"/>
<rect x="430.20" y="292.18" width="3.2" height="3.2" fill="#fff" stroke="#000" stroke-width="0.9"/>
<rect x="431.60" y="289.77" width="3.2" height="3.2" fill="#fff" stroke="#000" stroke-width="0.9"/>
<rect x="432.75" y="287.35" width="3.2" height="3.2" fill="#fff" stroke="#000" stroke-width="0.9"/>
<rect x="433.90" y="284.94" width="3.2" height="3.2" fill="#fff" stroke="#000" stroke-width="0.9"/>
<rect x="435.25" y="282.53" width="3.2" height="3.2" fill="#fff" stroke="#000" stroke-width="0.9"/>
<rect x="436.60" y="280.11" width="3.2" height="3.2" fill="#fff" stroke="#000" stroke-width="0.9"/>
<rect x="437.65" y="277.70" width="3.2" height="3.2" fill="#fff" stroke="#000" stroke-width="0.9"/>
<rect x="438.70" y="275.28" width="3.2" height="3.2" fill="#fff" stroke="#000" stroke-width="0.9"/>
<rect x="439.05" y="272.87" width="3.2" height="3.2" fill="#fff" stroke="#000" stroke-width="0.9"/>
<rect x="439.40" y="270.46" width="3.2" height="3.2" fill="#fff" stroke="#000" stroke-width="0.9"/>
<rect x="440.75" y="268.04" width="3.2" height="3.2" fill="#fff" stroke="#000" stroke-width="0.9"/>
<rect x="442.10" y="265.63" width="3.2" height="3.2" fill="#fff" stroke="#000" stroke-width="0.9"/>
<rect x="442.00" y="263.22" width="3.2" height="3.2" fill="#fff" stroke="#000" stroke-width="0.9"/>
<rect x="442.40" y="260.80" width="3.2" height="3.2" fill="#fff" stroke="#000" stroke-width="0.9"/>
<rect x="442.80" y="258.39" width="3.2" height="3.2" fill="#fff" stroke="#000" stroke-width="0.9"/>
<rect x="443.40" y="255.97" width="3.2" height="3.2" fill="#fff" stroke="#000" stroke-width="0.9"/>
<rect x="446.80" y="253.56" width="3.2" height="3.2" fill="#fff" stroke="#000" stroke-width="0.9"/>
<rect x="448.60" y="251.15" width="3.2" height="3.2" fill="#fff" stroke="#000" stroke-width="0.9"/>
<rect x="449.15" y="248.73" width="3.2" height="3.2" fill="#fff" stroke="#000" stroke-width="0.9"/>
<rect x="449.70" y="246.32" width="3.2" height="3.2" fill="#fff" stroke="#000" stroke-width="0.9"/>
<rect x="451.50" y="243.91" width="3.2" height="3.2" fill="#fff" stroke="#000" stroke-width="0.9"/>
<rect x="452.05" y="241.49" width="3.2" height="3.2" fill="#fff" stroke="#000" stroke-width="0.9"/>
<rect x="452.60" y="239.08" width="3.2" height="3.2" fill="#fff" stroke="#000" stroke-width="0.9"/>
<rect x="453.20" y="236.66" width="3.2" height="3.2" fill="#fff" stroke="#000" stroke-width="0.9"/>
<rect x="453.80" y="234.25" width="3.2" height="3.2" fill="#fff" stroke="#000" stroke-width="0.9"/>
<rect x="454.35" y="231.84" width="3.2" height="3.2" fill="#fff" stroke="#000" stroke-width="0.9"/>
<rect x="454.90" y="229.42" width="3.2" height="3.2" fill="#fff" stroke="#000" stroke-width="0.9"/>
<rect x="455.50" y="227.01" width="3.2" height="3.2" fill="#fff" stroke="#000" stroke-width="0.9"/>
<rect x="456.10" y="224.60" width="3.2" height="3.2" fill="#fff" stroke="#000" stroke-width="0.9"/>
<rect x="458.20" y="222.18" width="3.2" height="3.2" fill="#fff" stroke="#000" stroke-width="0.9"/>
<rect x="459.50" y="219.77" width="3.2" height="3.2" fill="#fff" stroke="#000" stroke-width="0.9"/>
<rect x="460.05" y="217.35" width="3.2" height="3.2" fill="#fff" stroke="#000" stroke-width="0.9"/>
<rect x="460.60" y="214.94" width="3.2" height="3.2" fill="#fff" stroke="#000" stroke-width="0.9"/>
<rect x="460.90" y="212.53" width="3.2" height="3.2" fill="#fff" stroke="#000" stroke-width="0.9"/>
<rect x="461.20" y="210.11" width="3.2" height="3.2" fill="#fff" stroke="#000" stroke-width="0.9"/>
<rect x="461.60" y="207.70" width="3.2" height="3.2" fill="#fff" stroke="#000" stroke-width="0.9"/>
<text transform="translate(10.0 96.0) rotate(-90)" text-anchor="middle" font-size="11.2">% of Rolling Cells</text>
<text transform="translate(293.4 98.1) rotate(-90)" text-anchor="middle" font-size="11.2">% of Rolling Cells</text>
<text transform="translate(13.8 274.0) rotate(-90)" text-anchor="middle" font-size="11.2">% of Rolling Cells</text>
<text transform="translate(295.4 275.25) rotate(-90)" text-anchor="middle" font-size="11.2">% of Rolling Cells</text>
<text x="102.5" y="186.1" font-size="11">V<tspan font-size="7.8" dy="2.4">roll</tspan><tspan dy="-2.4"> (μM/s)</tspan></text>
<text x="386.5" y="186.0" font-size="11">V<tspan font-size="7.8" dy="2.4">roll</tspan><tspan dy="-2.4"> (μM/s)</tspan></text>
<text x="104.4" y="363.1" font-size="11">V<tspan font-size="7.8" dy="2.4">roll</tspan><tspan dy="-2.4"> (μM/s)</tspan></text>
<text x="388.3" y="363.0" font-size="11">V<tspan font-size="7.8" dy="2.4">roll</tspan><tspan dy="-2.4"> (μM/s)</tspan></text>
<text transform="translate(1.85 19.3) scale(1.045 1)" font-size="25.8" font-weight="bold" style="stroke:none">A</text>
<text transform="translate(279.25 20.5) scale(1.0 1)" font-size="25.8" font-weight="bold" style="stroke:none">B</text>
<text transform="translate(0.21 199.8) scale(0.96 1)" font-size="25.8" font-weight="bold" style="stroke:none">C</text>
<text transform="translate(282.05 200) scale(1.0 1)" font-size="25.8" font-weight="bold" style="stroke:none">D</text>
<text x="187.8" y="76.6" text-anchor="middle" font-size="11">T cells</text>
<text x="187.3" y="90.5" text-anchor="middle" font-size="11">Order 3</text>
<rect x="143.3" y="97.5" width="5.5" height="5.7" fill="#000"/>
<rect x="143.8" y="116.9" width="4.8" height="4.9" fill="#fff" stroke="#000" stroke-width="1"/>
<text font-size="7.5" x="152.2" y="102">WT (n=57/4/3)</text>
<text font-size="7.5" x="152.2" y="110.4">median = 15.3μm/s</text>
<text font-size="7.5" x="152.2" y="122"><tspan letter-spacing="0.13">HEC-GlcNAc6ST</tspan><tspan font-size="4.6" dx="0.6" dy="-2.2" style="fill:#555;stroke:#555;stroke-width:0.15px">-/-</tspan></text>
<text font-size="7.5" x="152.2" y="130.6">(n=50/3/2)</text>
<text font-size="7.5" x="152.2" y="139.2">median = 41.9μm/s</text>
<text font-size="7.5" x="152.2" y="147.9"><tspan font-style="italic">P</tspan>&lt;.0001 vs WT</text>
<text x="470.8" y="76.6" text-anchor="middle" font-size="11">T cells</text>
<text x="469.4" y="89.7" text-anchor="middle" font-size="11">Order 4</text>
<rect x="429.5" y="97.5" width="5.5" height="5.7" fill="#000"/>
<rect x="430.0" y="116.9" width="4.8" height="4.9" fill="#fff" stroke="#000" stroke-width="1"/>
<text font-size="7.5" x="438.4" y="101.1">WT (n=52/3/2)</text>
<text font-size="7.5" x="438.4" y="109.5">median = 8.1μm/s</text>
<text font-size="7.5" x="438.4" y="121.1"><tspan letter-spacing="0.13">HEC-GlcNAc6ST</tspan><tspan font-size="4.6" dx="0.6" dy="-2.2" style="fill:#555;stroke:#555;stroke-width:0.15px">-/-</tspan></text>
<text font-size="7.5" x="438.4" y="129.7">(n=53/3/2)</text>
<text font-size="7.5" x="438.4" y="138.29999999999998">median = 42.5μm/s</text>
<text font-size="7.5" x="438.4" y="147.0"><tspan font-style="italic">P</tspan>&lt;.0001 vs WT</text>
<text x="44.7" y="222.6" font-size="11" textLength="73.4" lengthAdjust="spacing">B cells Order 3</text>
<rect x="45.2" y="230.6" width="5.7" height="6.0" fill="#000"/>
<rect x="45.7" y="248.2" width="4.8" height="4.9" fill="#fff" stroke="#000" stroke-width="1"/>
<text font-size="7.5" x="55.6" y="234.6">WT (n=91/7/5)</text>
<text font-size="7.5" x="55.6" y="243.0">median = 43.7μm/s</text>
<text font-size="7.5" x="55.6" y="252.8"><tspan letter-spacing="0.13">HEC-GlcNAc6ST</tspan><tspan font-size="4.6" dx="0.6" dy="-2.2" style="fill:#555;stroke:#555;stroke-width:0.15px">-/-</tspan></text>
<text font-size="7.5" x="55.6" y="261.5">(n=52/4/3)</text>
<text font-size="7.5" x="55.6" y="269.9">median = 123.1μm/s</text>
<text font-size="7.5" x="55.6" y="288.6"><tspan font-style="italic">P</tspan>&lt;.0001 vs WT</text>
<text x="328.3" y="219.20000000000002" font-size="11" textLength="74.6" lengthAdjust="spacing">B cells Order 4</text>
<rect x="326.0" y="228.5" width="5.7" height="6.2" fill="#000"/>
<rect x="326.5" y="243.3" width="4.8" height="5.3" fill="#fff" stroke="#000" stroke-width="1"/>
<text font-size="7.5" x="339.0" y="229.70000000000002">WT (n=107/8/3)</text>
<text font-size="7.5" x="339.0" y="238.10000000000002">median = 41.8μm/s</text>
<text font-size="7.5" x="339.0" y="249.5"><tspan letter-spacing="0.13">HEC-GlcNAc6ST</tspan><tspan font-size="4.6" dx="0.6" dy="-2.2" style="fill:#555;stroke:#555;stroke-width:0.15px">-/-</tspan></text>
<text font-size="7.5" x="339.0" y="258.7">(n=51/3/3)</text>
<text font-size="7.5" x="339.0" y="267.7">median = 86.9μm/s</text>
<text font-size="7.5" x="339.0" y="286.3"><tspan font-style="italic">P</tspan>&lt;.0001 vs WT</text>
</svg></body></html>
